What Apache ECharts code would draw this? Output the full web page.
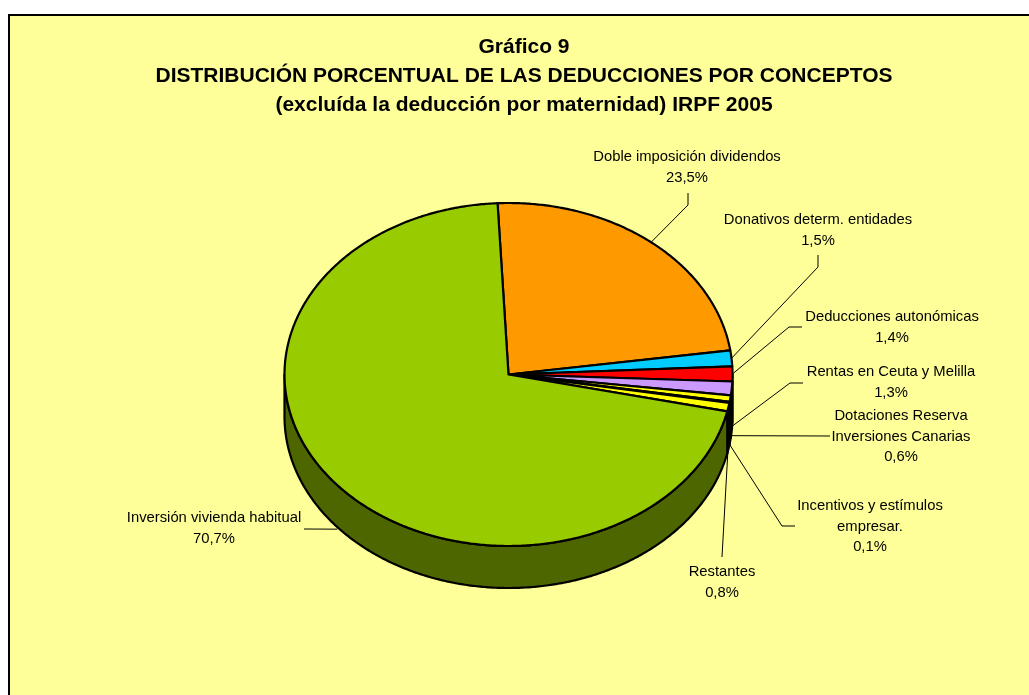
<!DOCTYPE html>
<html lang="es">
<head>
<meta charset="UTF-8">
<title>Gráfico 9</title>
<style>
    html, body {
        margin: 0;
        padding: 0;
        background: #fff;
        overflow: hidden;
    }

    #main {
        width: 1048px;
        height: 695px;
    }
</style>
</head>
<body>
<div id="main"></div>
<script src="https://cdn.jsdelivr.net/npm/echarts@6/dist/echarts.min.js"></script>
<script>
    // datos (orden de las porciones, en el sentido de las agujas del reloj)
    var conceptos = [
        'Doble imposición dividendos',
        'Donativos determ. entidades',
        'Deducciones autonómicas',
        'Rentas en Ceuta y Melilla',
        'Dotaciones Reserva\nInversiones Canarias',
        'Incentivos y estímulos\nempresar.',
        'Restantes',
        'Inversión vivienda habitual'
    ];
    var porcentajes = [23.5, 1.5, 1.4, 1.3, 0.6, 0.1, 0.8, 70.7];
    var etiquetasPct = ['23,5%', '1,5%', '1,4%', '1,3%', '0,6%', '0,1%', '0,8%', '70,7%'];
    var colores = ['#FF9900', '#00CCFF', '#FF0000', '#CC99FF', '#FFFF00', '#FFFF00', '#FFFF00', '#99CC00'];

    // geometria de la tarta 3D
    var CX = 508.5, CY = 374.5, RX = 224, RY = 171.5, DEPTH = 42, START = -2.8;

    // colocación de las etiquetas (centro del texto, codos de la línea guía, caída sobre el lateral)
    var etiquetas = [
        {x: 687, y: 157, line: [[688, 193], [688, 205]], drop: 0},
        {x: 818, y: 220, line: [[818, 255], [818, 267]], drop: 0},
        {x: 892, y: 317, line: [[802, 327], [789, 327]], drop: 0},
        {x: 891, y: 372, line: [[803, 383], [790, 383]], drop: 38},
        {x: 901, y: 416, line: [[830, 436]], drop: 37},
        {x: 870, y: 506, line: [[795, 526], [782, 526]], drop: 42},
        {x: 722, y: 572, line: [[722, 557]], drop: 35},
        {x: 214, y: 518, line: [[304, 529]], drop: 44}
    ];

    var FONT = "'Liberation Sans', Arial, sans-serif";

    var total = porcentajes.reduce(function (s, v) { return s + v; }, 0);
    var inicios = [];
    var acc = START;
    porcentajes.forEach(function (v) {
        inicios.push(acc);
        acc += v / total * 360;
    });

    var pt = function (deg, dy) {
        var r = deg * Math.PI / 180;
        return [CX + RX * Math.sin(r), CY - RY * Math.cos(r) + (dy || 0)];
    };

    var arco = function (a, b, dy) {
        var pts = [];
        var n = Math.max(2, Math.ceil(Math.abs(b - a) * 2));
        for (var i = 0; i <= n; i++) {
            pts.push(pt(a + (b - a) * i / n, dy));
        }
        return pts;
    };

    var oscurecer = function (hex, f) {
        var n = parseInt(hex.slice(1), 16);
        var r = Math.round(((n >> 16) & 255) * f);
        var g = Math.round(((n >> 8) & 255) * f);
        var b = Math.round((n & 255) * f);
        return 'rgb(' + r + ',' + g + ',' + b + ')';
    };

    var renderItem = function (params, api) {
        var i = params.dataIndex;
        var a = inicios[i];
        var b = a + api.value(0) / total * 360;
        var children = [];

        // lateral visible (mitad delantera)
        var s = Math.max(a, 90), e = Math.min(b, 270);
        if (e > s) {
            var lado = arco(s, e, 0).concat(arco(e, s, DEPTH));
            children.push({
                type: 'polygon',
                z2: 1,
                shape: {points: lado},
                style: {fill: oscurecer(colores[i], 0.5), stroke: '#000', lineWidth: 2.2, lineJoin: 'round'}
            });
        }

        // cara superior
        children.push({
            type: 'polygon',
            z2: 2,
            shape: {points: [[CX, CY]].concat(arco(a, b, 0))},
            style: {fill: colores[i], stroke: '#000', lineWidth: 2.2, lineJoin: 'round'}
        });

        // etiqueta y línea guía
        var lab = etiquetas[i];
        var fin = pt((a + b) / 2, lab.drop);
        children.push({
            type: 'polyline',
            z2: 3,
            shape: {points: lab.line.concat([fin])},
            style: {stroke: '#000', lineWidth: 1, fill: null}
        });
        children.push({
            type: 'text',
            z2: 4,
            x: lab.x,
            y: lab.y - 10.25,
            style: {
                text: conceptos[i] + '\n' + etiquetasPct[i],
                font: '14.8px ' + FONT,
                lineHeight: 20.5,
                fill: '#000',
                align: 'center',
                verticalAlign: 'top'
            }
        });

        return {type: 'group', children: children};
    };

    var myChart = echarts.init(document.getElementById('main'), null, {renderer: 'canvas'});
    myChart.setOption({
        animation: false,
        backgroundColor: '#fff',
        title: {
            text: 'Gráfico 9\nDISTRIBUCIÓN PORCENTUAL DE LAS DEDUCCIONES POR CONCEPTOS\n(excluída la deducción por maternidad) IRPF 2005',
            left: 'center',
            top: 28,
            textStyle: {
                fontFamily: FONT,
                fontSize: 21,
                fontWeight: 'bold',
                lineHeight: 29,
                color: '#000'
            }
        },
        graphic: [{
            type: 'rect',
            z: -1,
            shape: {x: 9, y: 15, width: 1100, height: 800},
            style: {fill: '#FFFF99', stroke: '#000', lineWidth: 2}
        }],
        series: [{
            type: 'custom',
            coordinateSystem: 'none',
            silent: true,
            data: porcentajes.map(function (v, i) {
                return {name: conceptos[i], value: v};
            }),
            renderItem: renderItem
        }]
    });
</script>
</body>
</html>
